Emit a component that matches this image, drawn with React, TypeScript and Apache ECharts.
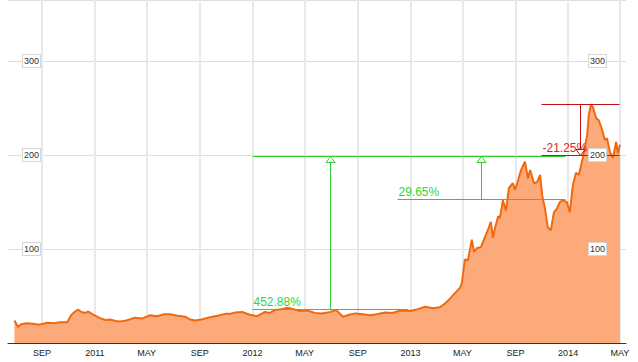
import { useEffect, useRef } from 'react';
import * as echarts from 'echarts';

const dates = [
  '2010-06-29', '2010-07-07', '2010-07-14', '2010-07-27', '2010-08-11', '2010-08-25', '2010-09-13', '2010-09-28',
  '2010-10-13', '2010-10-29', '2010-11-08', '2010-11-15', '2010-11-23', '2010-12-01', '2010-12-10', '2010-12-17',
  '2010-12-27', '2011-01-13', '2011-01-25', '2011-02-05', '2011-02-18', '2011-03-01', '2011-03-15', '2011-04-04',
  '2011-04-20', '2011-05-09', '2011-05-25', '2011-06-10', '2011-06-24', '2011-07-12', '2011-07-29', '2011-08-10',
  '2011-08-21', '2011-09-05', '2011-09-25', '2011-10-12', '2011-10-30', '2011-11-10', '2011-11-22', '2011-12-08',
  '2011-12-26', '2012-01-12', '2012-01-30', '2012-02-10', '2012-02-22', '2012-03-08', '2012-03-23', '2012-04-05',
  '2012-04-20', '2012-05-08', '2012-05-25', '2012-06-10', '2012-06-29', '2012-07-13', '2012-07-29', '2012-08-12',
  '2012-08-26', '2012-09-12', '2012-09-29', '2012-10-15', '2012-11-03', '2012-11-20', '2012-12-08', '2012-12-31',
  '2013-01-18', '2013-02-04', '2013-02-22', '2013-03-10', '2013-03-22', '2013-04-03', '2013-04-14', '2013-04-26',
  '2013-04-30', '2013-05-07', '2013-05-14', '2013-05-23', '2013-05-28', '2013-06-04', '2013-06-13', '2013-06-20',
  '2013-06-29', '2013-07-06', '2013-07-11', '2013-07-16', '2013-07-23', '2013-07-27', '2013-08-03', '2013-08-10',
  '2013-08-17', '2013-08-26', '2013-08-31', '2013-09-05', '2013-09-14', '2013-09-23', '2013-09-30', '2013-10-05',
  '2013-10-14', '2013-10-21', '2013-10-28', '2013-11-02', '2013-11-08', '2013-11-15', '2013-11-22', '2013-11-29',
  '2013-12-06', '2013-12-13', '2013-12-20', '2013-12-29', '2014-01-05', '2014-01-12', '2014-01-19', '2014-01-26',
  '2014-02-04', '2014-02-14', '2014-02-18', '2014-02-23', '2014-02-28', '2014-03-07', '2014-03-13', '2014-03-20',
  '2014-03-27', '2014-04-01', '2014-04-08', '2014-04-15', '2014-04-22', '2014-04-26', '2014-05-01',
];

const prices = [
  24, 17, 20, 21, 20.5, 19.5, 21.5, 21,
  22, 22, 30, 33, 35.5, 33, 32, 33.5,
  30.5, 26.5, 24.5, 25, 23.5, 23, 24, 27,
  26, 29.5, 28.5, 30.5, 30.5, 29, 28, 25,
  24, 25, 27.5, 29, 31, 31, 32.5, 33,
  30, 28.5, 33, 32, 35, 36, 37.5, 36,
  34, 34.5, 32, 31.5, 33, 35, 28, 30,
  31.5, 30.5, 29.5, 30.5, 32.5, 32, 34.5, 34,
  36, 38.5, 37, 38, 42, 47.5, 53, 59,
  64, 89, 88, 110, 97, 101, 102, 110,
  120, 129, 112, 123, 135, 133, 152, 141,
  165, 170, 163, 170, 184, 193, 175, 184,
  170, 171, 179, 157, 144, 123, 120, 139,
  143, 150, 152, 150, 139, 168, 181, 179,
  197, 221, 243, 254, 250, 239, 237, 228,
  216, 218, 203, 197, 214, 202, 211,
];

const xTickDates = [
  '2010-09-01', '2011-01-01', '2011-05-01', '2011-09-01', '2012-01-01', '2012-05-01',
  '2012-09-01', '2013-01-01', '2013-05-01', '2013-09-01', '2014-01-01', '2014-05-01',
];
const monthNames = ['JAN', 'FEB', 'MAR', 'APR', 'MAY', 'JUN', 'JUL', 'AUG', 'SEP', 'OCT', 'NOV', 'DEC'];
const yTicks = [100, 200, 300];
const xMin = '2010-06-14';
const xMax = '2014-05-15';
const yMin = 0;
const yMax = 365;

const measureLabels = ['452.88%', '29.65%', '-21.25%'];
const measureStart = ['2012-01-01', '2012-12-01', '2013-10-30'];
const measureEnd = ['2012-12-27', '2013-12-25', '2014-04-29'];
const measureFrom = [36.0, 153.5, 254.3];
const measureTo = [199, 199, 200.3];

const FONT = 'Arial, "Liberation Sans", sans-serif';
const GREEN_LINE = '#33cc33';
const GREEN_TEXT = '#2fd82f';
const RED_LINE = '#c40f14';
const RED_TEXT = '#e3222b';

const ts = (d: string) => +echarts.time.parse(d);

export default function App() {
  const ref = useRef<HTMLDivElement>(null);

  useEffect(() => {
    if (!ref.current) return;
    const chart = echarts.init(ref.current, undefined, { renderer: 'svg' });

    const tickTs = xTickDates.map(ts);
    const seriesData = dates.map((d, i) => [ts(d), prices[i]]);
    const measureData = measureLabels.map((_, i) => [
      ts(measureStart[i]), ts(measureEnd[i]), measureFrom[i], measureTo[i],
    ]);

    const renderMeasure = (params: any, api: any) => {
      const i = params.dataIndex;
      const s = api.value(0);
      const e = api.value(1);
      const from = api.value(2);
      const to = api.value(3);
      const up = to > from;
      const lc = up ? GREEN_LINE : RED_LINE;
      const tc = up ? GREEN_TEXT : RED_TEXT;
      const pS = api.coord([s, from]);
      const pE = api.coord([e, to]);
      const x0 = Math.round(pS[0]) + 0.5;
      const x1 = Math.round(pE[0]) + 0.5;
      const yFrom = Math.round(pS[1]) + 0.5;
      const yTo = Math.round(pE[1]) + 0.5;
      const xm = Math.round((pS[0] + pE[0]) / 2) + 0.5;
      const yLow = Math.max(yFrom, yTo);
      const dir = yTo < yFrom ? 1 : -1;
      const base = yTo + dir * 6;
      return {
        type: 'group',
        children: [
          {
            type: 'text',
            x: x0 + 1,
            y: yLow - 2,
            style: {
              text: measureLabels[i], fill: tc, font: `12px ${FONT}`,
              align: 'left', verticalAlign: 'bottom',
            },
          },
          {
            type: 'polyline',
            shape: { points: [[x0, yTo], [x1, yTo]] },
            style: { stroke: lc, lineWidth: 1, fill: null },
          },
          {
            type: 'polyline',
            shape: { points: [[x0, yFrom], [x1, yFrom]] },
            style: { stroke: lc, lineWidth: 1, fill: null },
          },
          {
            type: 'polyline',
            shape: { points: [[xm, yFrom], [xm, base]] },
            style: { stroke: lc, lineWidth: 1, fill: null },
          },
          {
            type: 'polygon',
            shape: { points: [[xm, yTo], [xm - 4.5, base], [xm + 4.5, base]] },
            style: { fill: '#fff', stroke: lc, lineWidth: 1 },
          },
        ],
      };
    };

    const labelBox = {
      inside: true,
      customValues: yTicks,
      color: '#333',
      fontSize: 9,
      fontFamily: FONT,
      backgroundColor: '#fff',
      borderColor: '#d6d6d6',
      borderWidth: 1,
      padding: [2, 1, 1, 1],
    };

    chart.setOption({
      animation: false,
      grid: { left: 8, right: 12, top: 0, bottom: 19, containLabel: false },
      xAxis: {
        type: 'value',
        min: ts(xMin),
        max: ts(xMax),
        axisLine: { show: true, onZero: false, lineStyle: { color: '#333', width: 1 } },
        axisTick: { show: false, customValues: tickTs },
        axisLabel: {
          customValues: tickTs,
          color: '#1a1a1a',
          fontSize: 9,
          fontFamily: FONT,
          margin: 5,
          formatter: (v: number) => {
            const d = new Date(v);
            const m = d.getMonth();
            return m === 0 ? String(d.getFullYear()) : monthNames[m];
          },
        },
        splitLine: { show: true, lineStyle: { color: '#e8e8e8', width: 2 } },
      },
      yAxis: [
        {
          type: 'value',
          position: 'left',
          min: yMin,
          max: yMax,
          interval: 100,
          axisLine: { show: false },
          axisTick: { show: false },
          axisLabel: { ...labelBox, margin: 15 },
          splitLine: { show: true, lineStyle: { color: '#dedede', width: 1 } },
        },
        {
          type: 'value',
          position: 'right',
          min: yMin,
          max: yMax,
          interval: 100,
          z: 10,
          axisLine: { show: false },
          axisTick: { show: false },
          axisLabel: { ...labelBox, margin: 20 },
          splitLine: { show: false },
        },
      ],
      series: [
        {
          type: 'line',
          data: seriesData,
          symbol: 'none',
          showSymbol: false,
          lineStyle: { color: '#f0690f', width: 2 },
          areaStyle: { color: '#fdaa7b', opacity: 1 },
          silent: true,
          z: 2,
        },
        {
          type: 'custom',
          data: measureData,
          encode: { x: [0, 1], y: [2, 3] },
          renderItem: renderMeasure,
          silent: true,
          clip: false,
          z: 3,
        },
      ],
    });

    return () => chart.dispose();
  }, []);

  return (
    <div
      ref={ref}
      style={{ position: 'fixed', left: 0, top: 0, width: 638, height: 362, background: '#fff' }}
    />
  );
}
